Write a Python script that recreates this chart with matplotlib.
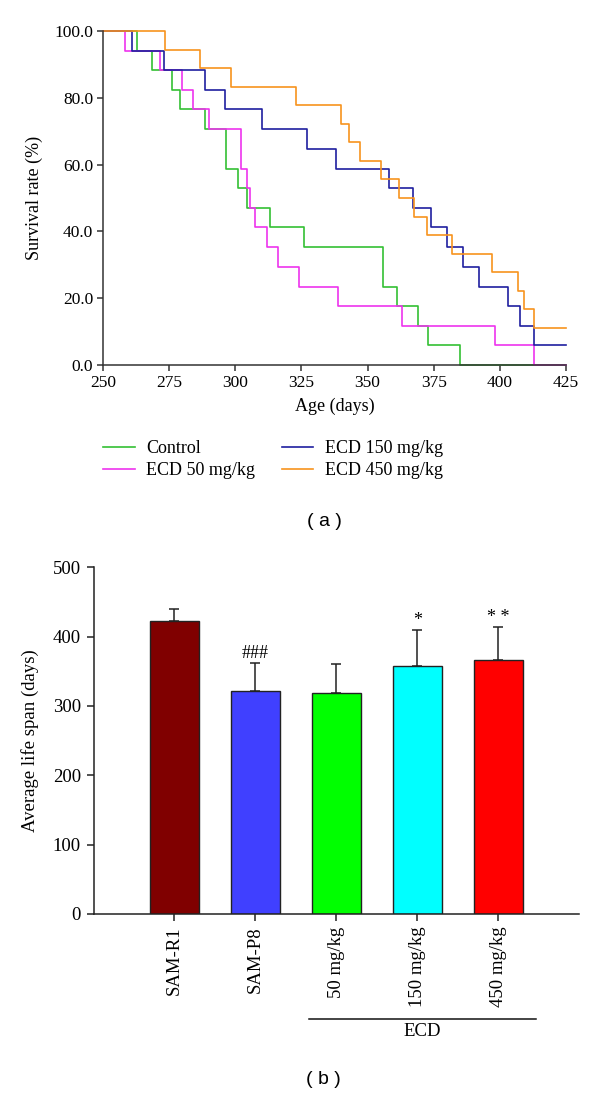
import matplotlib
matplotlib.use("Agg")
import matplotlib.pyplot as plt
import numpy as np

# Kaplan-Meier style survival curves (day at which each step starts, survival % after it)
control_days = [250, 263, 268.5, 276, 279, 288.5, 296.5, 301, 304.5, 313, 326, 356, 361, 369, 373, 385, 425]
control_surv = [100, 94.1, 88.2, 82.4, 76.5, 70.6, 58.8, 52.9, 47.1, 41.2, 35.3, 23.5, 17.6, 11.8, 5.9, 0, 0]

ecd50_days = [250, 258.5, 271.5, 280, 284, 290, 302, 304.5, 305.5, 307.5, 312, 316, 324, 339, 363, 398, 413, 425]
ecd50_surv = [100, 94.1, 88.2, 82.4, 76.5, 70.6, 58.8, 52.9, 47.1, 41.2, 35.3, 29.4, 23.5, 17.6, 11.8, 5.9, 0, 0]

ecd150_days = [250, 261, 273, 288.5, 296, 310, 327, 338, 358, 367, 374, 380, 386, 392, 403, 407.5, 413, 425]
ecd150_surv = [100, 94.1, 88.2, 82.4, 76.5, 70.6, 64.7, 58.8, 52.9, 47.1, 41.2, 35.3, 29.4, 23.5, 17.6, 11.8, 5.9, 5.9]

ecd450_days = [250, 273.5, 286.5, 298.5, 323, 340, 343, 347, 355, 362, 367.5, 372.5, 382, 397, 407, 409, 413, 425]
ecd450_surv = [100, 94.4, 88.9, 83.3, 77.8, 72.2, 66.7, 61.1, 55.6, 50.0, 44.4, 38.9, 33.3, 27.8, 22.2, 16.7, 11.1, 11.1]

curve_labels = ["Control", "ECD 50 mg/kg", "ECD 150 mg/kg", "ECD 450 mg/kg"]
curve_colors = ["#33C033", "#EE33EE", "#1F1F9F", "#F7931E"]

# average life span bar chart
groups = ["SAM-R1", "SAM-P8", "50 mg/kg", "150 mg/kg", "450 mg/kg"]
life_mean = [423, 321, 318, 357, 367]
life_sd = [17, 41, 43, 52, 47]
sig_marks = ["", "###", "", "*", "* *"]
bar_colors = ["#800000", "#4040FF", "#00FF00", "#00FFFF", "#FF0000"]

serif = "Liberation Serif"
sans = "Liberation Sans"
plt.rcParams["font.family"] = [serif, "DejaVu Serif"]

W, H = 600, 1095
fig = plt.figure(figsize=(W / 100, H / 100), dpi=100)

def px_axes(left, top, right, bottom):
    return fig.add_axes([left / W, 1 - bottom / H, (right - left) / W, (bottom - top) / H])

# ---- (a) survival curves ----
ax1 = px_axes(103, 31, 566, 365)
series = [(control_days, control_surv), (ecd50_days, ecd50_surv),
          (ecd150_days, ecd150_surv), (ecd450_days, ecd450_surv)]
for (d, s), lab, col in zip(series, curve_labels, curve_colors):
    ax1.step(d, s, where="post", color=col, lw=1.2, label=lab, clip_on=False)

ax1.set_xlim(250, 425)
ax1.set_ylim(0, 100)
ax1.set_xticks(np.arange(250, 426, 25))
ax1.set_yticks(np.arange(0, 101, 20))
ax1.set_yticklabels([f"{v:.1f}" for v in np.arange(0, 101, 20)])
for sp in ["top", "right"]:
    ax1.spines[sp].set_visible(False)
for sp in ["left", "bottom"]:
    ax1.spines[sp].set_color("#333333")
    ax1.spines[sp].set_linewidth(1.1)
ax1.tick_params(direction="out", length=4, width=1.1, color="#333333", labelsize=12.5, pad=3)
ax1.set_xlabel("Age (days)", fontsize=13, labelpad=5)
ax1.set_ylabel("Survival rate (%)", fontsize=13, labelpad=8)

handles, labels = ax1.get_legend_handles_labels()
fig.legend(handles, labels, ncol=2, loc="upper left",
           bbox_to_anchor=(103 / W, 1 - 440 / H), frameon=False,
           fontsize=13, handlelength=1.75, handletextpad=0.65,
           columnspacing=1.45, labelspacing=0.3, borderpad=0, borderaxespad=0)

fig.text(324 / W, 1 - 522 / H, "( a )", family=sans, fontsize=14, ha="center", va="center")

# ---- (b) average life span ----
ax2 = px_axes(93.5, 567.3, 579.3, 914)
x = np.arange(len(groups))
ax2.bar(x, life_mean, width=0.6, color=bar_colors, edgecolor="#222222", linewidth=1.0, zorder=2)
ax2.errorbar(x, life_mean, yerr=[np.zeros(len(x)), life_sd], fmt="none",
             ecolor="#222222", elinewidth=1.1, capsize=3.6, capthick=1.1, zorder=1)
for xi, m, s, mark in zip(x, life_mean, life_sd, sig_marks):
    if mark:
        ax2.text(xi, m + s + 2, mark, ha="center", va="bottom", fontsize=13)

ax2.set_xlim(-1, 5)
ax2.set_ylim(0, 500)
ax2.set_yticks(np.arange(0, 501, 100))
ax2.set_xticks(x)
ax2.set_xticklabels(groups, rotation=90, va="top", ha="center")
for sp in ["top", "right"]:
    ax2.spines[sp].set_visible(False)
for sp in ["left", "bottom"]:
    ax2.spines[sp].set_color("#222222")
    ax2.spines[sp].set_linewidth(1.1)
ax2.tick_params(direction="out", length=5, width=1.1, color="#222222", labelsize=13.5, pad=4)
ax2.set_ylabel("Average life span (days)", fontsize=13.5, labelpad=10)

# group bracket for the three ECD doses
trans = ax2.get_xaxis_transform()
ax2.plot([2 - 0.34, 4 + 0.46], [-0.302, -0.302], color="#111111", lw=1.1,
         transform=trans, clip_on=False)
ax2.text(3.06, -0.34, "ECD", transform=trans, ha="center", va="center", fontsize=13.5)

fig.text(323 / W, 1 - 1080 / H, "( b )", family=sans, fontsize=14, ha="center", va="center")

fig.savefig("out.png", dpi=100)
